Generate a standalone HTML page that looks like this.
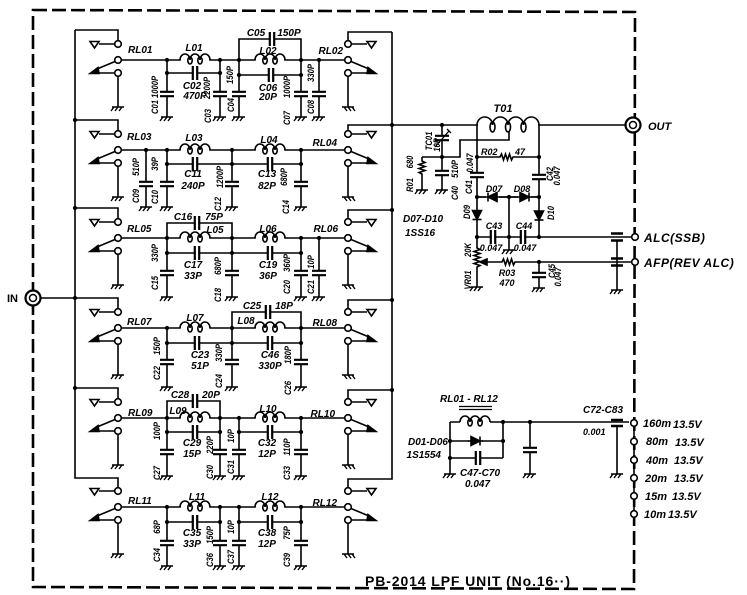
<!DOCTYPE html>
<html><head><meta charset="utf-8"><style>
html,body{margin:0;padding:0;background:#fff}
svg{display:block}
text{fill:#000;stroke:none;font-family:"Liberation Sans",sans-serif;font-weight:bold;font-style:italic;font-size:10px}
.r{text-anchor:middle;dominant-baseline:central;font-size:9px}
.m{text-anchor:middle}
.e{text-anchor:end}
.s{font-size:9px}
</style></head><body>
<svg width="747" height="595" viewBox="0 0 747 595" stroke="#000" stroke-width="1.6" fill="none">
<defs>
<g id="g"><path d="M-6,0H6M-4,0l-3,4M0,0l-3,4M4,0l-3,4" stroke-width="1.4"/></g>
<g id="cv"><rect x="-7" y="-2.2" width="14" height="4.4" fill="#fff" stroke="none"/><path d="M-7,-2.2H7M-7,2.2H7" stroke-width="2.2"/></g>
<g id="ch"><rect x="-2.2" y="-7" width="4.4" height="14" fill="#fff" stroke="none"/><path d="M-2.2,-7V7M2.2,-7V7" stroke-width="2.2"/></g>
<g id="L"><rect x="0.8" y="-2" width="28.4" height="4" fill="#fff" stroke="none"/><path d="M0,0A5,6 0 0 1 10,0A5,6 0 0 1 20,0A5,6 0 0 1 30,0"/><ellipse cx="10" cy="0.5" rx="2.2" ry="3.5"/><ellipse cx="20" cy="0.5" rx="2.2" ry="3.5"/></g>
<circle id="d" r="2.1" fill="#000" stroke="none"/>
<g id="rl">
<path d="M-3.3,-16H-19M-3,1.5L-21,9M-19,13H-3.3M0,16.3V47"/>
<polygon points="-28,-18.5 -19,-18.5 -23.5,-12" fill="#fff"/>
<polygon points="-28,13.5 -20,7.5 -19,13.5" fill="#000"/>
<circle cy="-16" r="3.3" fill="#fff"/><circle r="3.3" fill="#fff"/><circle cy="13" r="3.3" fill="#fff"/>
<use href="#g" y="47"/>
</g>
</defs>

<!-- dashed border -->
<path d="M33,10L635,12L634,589L33,587Z" stroke-width="2.6" stroke-dasharray="14 5"/>

<!-- buses -->
<path d="M75,30V478H118V487.7"/>
<path d="M392,32V479H348V487.7"/>
<path d="M41,298H75"/>
<use href="#d" x="75" y="120"/><use href="#d" x="75" y="208"/><use href="#d" x="75" y="298"/><use href="#d" x="75" y="388"/>
<use href="#d" x="392" y="125"/><use href="#d" x="392" y="210"/><use href="#d" x="392" y="300"/><use href="#d" x="392" y="390"/>

<!-- IN / OUT connectors -->
<circle cx="33" cy="298" r="7.5" fill="#fff" stroke-width="2.2"/><circle cx="33" cy="298" r="3.5" stroke-width="1.5"/>
<text x="7" y="302" style="font-style:normal;font-size:11px">IN</text>
<circle cx="633" cy="125" r="7.5" fill="#fff" stroke-width="2.2"/><circle cx="633" cy="125" r="3.5" stroke-width="1.5"/>
<text x="648" y="130" style="font-size:11px">OUT</text>

<!-- ROW 1 c=60 -->
<path d="M121.3,60H344.7M118,40.7V30H75M348,40.7V32H392M239,60V39H301V60M167,73H220M239,75H301M167,60V117M220,60V117M239,60V117M301,60V117M319,60V117"/>
<use href="#rl" x="118" y="60"/><use href="#rl" transform="translate(348,60) scale(-1,1)"/>
<use href="#L" x="180" y="60"/><use href="#L" x="255" y="60"/>
<use href="#ch" x="272" y="39"/><use href="#ch" x="195" y="73"/><use href="#ch" x="271" y="75"/>
<use href="#cv" x="167" y="94"/><use href="#cv" x="220" y="94"/><use href="#cv" x="239" y="94"/><use href="#cv" x="301" y="94"/><use href="#cv" x="319" y="94"/>
<use href="#g" x="167" y="117"/><use href="#g" x="220" y="117"/><use href="#g" x="239" y="117"/><use href="#g" x="301" y="117"/><use href="#g" x="319" y="117"/>
<use href="#d" x="167" y="60"/><use href="#d" x="220" y="60"/><use href="#d" x="239" y="60"/><use href="#d" x="301" y="60"/><use href="#d" x="319" y="60"/>
<use href="#d" x="167" y="73"/><use href="#d" x="220" y="73"/><use href="#d" x="239" y="75"/><use href="#d" x="301" y="75"/>
<text x="128" y="53">RL01</text><text class="e" x="343" y="54">RL02</text>
<text class="m" x="194" y="51">L01</text><text class="m" x="268" y="54">L02</text>
<text class="m" x="256" y="36">C05</text><text class="m" x="289" y="36">150P</text>
<text class="m" x="192" y="89">C02</text><text class="m" x="195" y="99">470P</text>
<text class="m" x="268" y="91">C06</text><text class="m" x="268" y="100">20P</text>
<text class="r" transform="translate(155,107)rotate(-90)scale(.85,1)">C01</text><text class="r" transform="translate(155,87)rotate(-90)scale(.85,1)">1000P</text>
<text class="r" transform="translate(208,116)rotate(-90)scale(.85,1)">C03</text><text class="r" transform="translate(207,88)rotate(-90)scale(.85,1)">2200P</text>
<text class="r" transform="translate(231,105)rotate(-90)scale(.85,1)">C04</text><text class="r" transform="translate(230,75)rotate(-90)scale(.85,1)">150P</text>
<text class="r" transform="translate(287,118)rotate(-90)scale(.85,1)">C07</text><text class="r" transform="translate(287,87)rotate(-90)scale(.85,1)">1000P</text>
<text class="r" transform="translate(311,107)rotate(-90)scale(.85,1)">C08</text><text class="r" transform="translate(311,73)rotate(-90)scale(.85,1)">330P</text>

<!-- ROW 2 c=150 -->
<path d="M121.3,150H344.7M118,130.7V120H75M348,130.7V125H625M167,164H301M146,150V207M167,150V207M232,150V207M301,150V207"/>
<use href="#rl" x="118" y="150"/><use href="#rl" transform="translate(348,150) scale(-1,1)"/>
<use href="#L" x="180" y="150"/><use href="#L" x="255" y="150"/>
<use href="#ch" x="195" y="164"/><use href="#ch" x="270" y="164"/>
<use href="#cv" x="146" y="184"/><use href="#cv" x="167" y="184"/><use href="#cv" x="232" y="184"/><use href="#cv" x="301" y="184"/>
<use href="#g" x="146" y="207"/><use href="#g" x="167" y="207"/><use href="#g" x="232" y="207"/><use href="#g" x="301" y="207"/>
<use href="#d" x="146" y="150"/><use href="#d" x="167" y="150"/><use href="#d" x="232" y="150"/><use href="#d" x="301" y="150"/>
<use href="#d" x="167" y="164"/><use href="#d" x="232" y="164"/><use href="#d" x="301" y="164"/>
<text x="127" y="140">RL03</text><text class="e" x="337" y="146">RL04</text>
<text class="m" x="194" y="141">L03</text><text class="m" x="269" y="143">L04</text>
<text class="m" x="193" y="177">C11</text><text class="m" x="193" y="189">240P</text>
<text class="m" x="267" y="177">C13</text><text class="m" x="267" y="189">82P</text>
<text class="r" transform="translate(136,196)rotate(-90)scale(.85,1)">C09</text><text class="r" transform="translate(136,167)rotate(-90)scale(.85,1)">510P</text>
<text class="r" transform="translate(155,197)rotate(-90)scale(.85,1)">C10</text><text class="r" transform="translate(155,164)rotate(-90)scale(.85,1)">39P</text>
<text class="r" transform="translate(218,204)rotate(-90)scale(.85,1)">C12</text><text class="r" transform="translate(220,177)rotate(-90)scale(.85,1)">1200P</text>
<text class="r" transform="translate(286,207)rotate(-90)scale(.85,1)">C14</text><text class="r" transform="translate(284,177)rotate(-90)scale(.85,1)">680P</text>

<!-- ROW 3 c=238 -->
<path d="M121.3,238H344.7M118,218.7V208H75M348,218.7V210H392M167,238V223H232V238M167,253H301M167,238V297M232,238V297M301,238V297M319,238V297"/>
<use href="#rl" x="118" y="238"/><use href="#rl" transform="translate(348,238) scale(-1,1)"/>
<use href="#L" x="180" y="238"/><use href="#L" x="255" y="238"/>
<use href="#ch" x="197" y="223"/><use href="#ch" x="197" y="253"/><use href="#ch" x="270" y="253"/>
<use href="#cv" x="167" y="273"/><use href="#cv" x="232" y="273"/><use href="#cv" x="301" y="273"/><use href="#cv" x="319" y="273"/>
<use href="#g" x="167" y="297"/><use href="#g" x="232" y="297"/><use href="#g" x="301" y="297"/><use href="#g" x="319" y="297"/>
<use href="#d" x="167" y="238"/><use href="#d" x="232" y="238"/><use href="#d" x="301" y="238"/><use href="#d" x="319" y="238"/>
<use href="#d" x="167" y="253"/><use href="#d" x="232" y="253"/><use href="#d" x="301" y="253"/>
<text x="127" y="232">RL05</text><text class="e" x="338" y="232">RL06</text>
<text class="m" x="215" y="233">L05</text><text class="m" x="268" y="232">L06</text>
<text class="m" x="183" y="220">C16</text><text class="m" x="214" y="220">75P</text>
<text class="m" x="193" y="268">C17</text><text class="m" x="193" y="279">33P</text>
<text class="m" x="268" y="268">C19</text><text class="m" x="268" y="279">36P</text>
<text class="r" transform="translate(155,283)rotate(-90)scale(.85,1)">C15</text><text class="r" transform="translate(155,253)rotate(-90)scale(.85,1)">330P</text>
<text class="r" transform="translate(218,295)rotate(-90)scale(.85,1)">C18</text><text class="r" transform="translate(218,266)rotate(-90)scale(.85,1)">680P</text>
<text class="r" transform="translate(287,287)rotate(-90)scale(.85,1)">C20</text><text class="r" transform="translate(287,263)rotate(-90)scale(.85,1)">360P</text>
<text class="r" transform="translate(311,287)rotate(-90)scale(.85,1)">C21</text><text class="r" transform="translate(311,262)rotate(-90)scale(.85,1)">10P</text>

<!-- ROW 4 c=328 -->
<path d="M121.3,328H344.7M118,308.7V298H75M348,308.7V300H392M232,328V312H301V328M167,343H301M167,328V387M232,328V387M301,328V387"/>
<use href="#rl" x="118" y="328"/><use href="#rl" transform="translate(348,328) scale(-1,1)"/>
<use href="#L" x="180" y="328"/><use href="#L" x="255" y="328"/>
<use href="#ch" x="268" y="312"/><use href="#ch" x="197" y="343"/><use href="#ch" x="270" y="343"/>
<use href="#cv" x="167" y="362"/><use href="#cv" x="232" y="362"/><use href="#cv" x="301" y="362"/>
<use href="#g" x="167" y="387"/><use href="#g" x="232" y="387"/><use href="#g" x="301" y="387"/>
<use href="#d" x="167" y="328"/><use href="#d" x="232" y="328"/><use href="#d" x="301" y="328"/>
<use href="#d" x="167" y="343"/><use href="#d" x="232" y="343"/><use href="#d" x="301" y="343"/>
<text x="127" y="325">RL07</text><text class="e" x="337" y="326">RL08</text>
<text class="m" x="195" y="321">L07</text><text class="m" x="246" y="324">L08</text>
<text class="m" x="252" y="309">C25</text><text class="m" x="284" y="309">18P</text>
<text class="m" x="200" y="358">C23</text><text class="m" x="200" y="369">51P</text>
<text class="m" x="270" y="358">C46</text><text class="m" x="270" y="369">330P</text>
<text class="r" transform="translate(157,373)rotate(-90)scale(.85,1)">C22</text><text class="r" transform="translate(157,346)rotate(-90)scale(.85,1)">150P</text>
<text class="r" transform="translate(219,381)rotate(-90)scale(.85,1)">C24</text><text class="r" transform="translate(219,353)rotate(-90)scale(.85,1)">330P</text>
<text class="r" transform="translate(288,388)rotate(-90)scale(.85,1)">C26</text><text class="r" transform="translate(288,355)rotate(-90)scale(.85,1)">180P</text>

<!-- ROW 5 c=418 -->
<path d="M121.3,418H344.7M118,398.7V388H75M348,398.7V390H392M167,418V401H220V418M167,432H220M239,432H301M167,418V476M220,418V476M239,418V476M301,418V476"/>
<use href="#rl" x="118" y="418"/><use href="#rl" transform="translate(348,418) scale(-1,1)"/>
<use href="#L" x="180" y="418"/><use href="#L" x="255" y="418"/>
<use href="#ch" x="195" y="401"/><use href="#ch" x="195" y="432"/><use href="#ch" x="270" y="432"/>
<use href="#cv" x="167" y="452"/><use href="#cv" x="220" y="452"/><use href="#cv" x="239" y="452"/><use href="#cv" x="301" y="452"/>
<use href="#g" x="167" y="476"/><use href="#g" x="220" y="476"/><use href="#g" x="239" y="476"/><use href="#g" x="301" y="476"/>
<use href="#d" x="167" y="418"/><use href="#d" x="220" y="418"/><use href="#d" x="239" y="418"/><use href="#d" x="301" y="418"/>
<use href="#d" x="167" y="432"/><use href="#d" x="220" y="432"/><use href="#d" x="239" y="432"/><use href="#d" x="301" y="432"/>
<text x="128" y="416">RL09</text><text class="e" x="335" y="417">RL10</text>
<text class="m" x="178" y="414">L09</text><text class="m" x="268" y="412">L10</text>
<text class="m" x="180" y="398">C28</text><text class="m" x="211" y="398">20P</text>
<text class="m" x="192" y="446">C29</text><text class="m" x="192" y="457">15P</text>
<text class="m" x="267" y="446">C32</text><text class="m" x="267" y="457">12P</text>
<text class="r" transform="translate(157,473)rotate(-90)scale(.85,1)">C27</text><text class="r" transform="translate(157,431)rotate(-90)scale(.85,1)">100P</text>
<text class="r" transform="translate(210,472)rotate(-90)scale(.85,1)">C30</text><text class="r" transform="translate(210,445)rotate(-90)scale(.85,1)">220P</text>
<text class="r" transform="translate(231,467)rotate(-90)scale(.85,1)">C31</text><text class="r" transform="translate(231,436)rotate(-90)scale(.85,1)">10P</text>
<text class="r" transform="translate(287,473)rotate(-90)scale(.85,1)">C33</text><text class="r" transform="translate(287,447)rotate(-90)scale(.85,1)">110P</text>

<!-- ROW 6 c=507 -->
<path d="M121.3,507H344.7M167,522H220M239,522H301M167,507V566M220,507V566M239,507V566M301,507V566"/>
<use href="#rl" x="118" y="507"/><use href="#rl" transform="translate(348,507) scale(-1,1)"/>
<use href="#L" x="180" y="507"/><use href="#L" x="255" y="507"/>
<use href="#ch" x="195" y="522"/><use href="#ch" x="270" y="522"/>
<use href="#cv" x="167" y="543"/><use href="#cv" x="220" y="543"/><use href="#cv" x="239" y="543"/><use href="#cv" x="301" y="543"/>
<use href="#g" x="167" y="566"/><use href="#g" x="220" y="566"/><use href="#g" x="239" y="566"/><use href="#g" x="301" y="566"/>
<use href="#d" x="167" y="507"/><use href="#d" x="220" y="507"/><use href="#d" x="239" y="507"/><use href="#d" x="301" y="507"/>
<use href="#d" x="167" y="522"/><use href="#d" x="220" y="522"/><use href="#d" x="239" y="522"/><use href="#d" x="301" y="522"/>
<text x="128" y="504">RL11</text><text class="e" x="337" y="506">RL12</text>
<text class="m" x="197" y="500">L11</text><text class="m" x="270" y="500">L12</text>
<text class="m" x="192" y="536">C35</text><text class="m" x="192" y="547">33P</text>
<text class="m" x="267" y="536">C38</text><text class="m" x="267" y="547">12P</text>
<text class="r" transform="translate(157,555)rotate(-90)scale(.85,1)">C34</text><text class="r" transform="translate(157,527)rotate(-90)scale(.85,1)">68P</text>
<text class="r" transform="translate(210,560)rotate(-90)scale(.85,1)">C36</text><text class="r" transform="translate(210,535)rotate(-90)scale(.85,1)">150P</text>
<text class="r" transform="translate(231,557)rotate(-90)scale(.85,1)">C37</text><text class="r" transform="translate(231,527)rotate(-90)scale(.85,1)">10P</text>
<text class="r" transform="translate(287,560)rotate(-90)scale(.85,1)">C39</text><text class="r" transform="translate(287,533)rotate(-90)scale(.85,1)">75P</text>

<!-- ALC / T01 section -->
<path d="M442,125V157M422,157H460V140H509V131M442,157V190"/>
<path d="M422,157V161l3,1.5l-6,2l6,2l-6,2l6,2l-6,2l3,1.5V190"/>
<use href="#cv" x="442" y="138"/>
<path d="M435,147L449,131M447,129L451,133" stroke-width="1.3"/>
<use href="#cv" x="442" y="173"/>
<use href="#g" x="422" y="190"/><use href="#g" x="442" y="190"/>
<use href="#d" x="442" y="125"/><use href="#d" x="442" y="157"/>
<rect x="478" y="122.5" width="60" height="5" fill="#fff" stroke="none"/>
<path d="M477,125A7.75,8 0 0 1 492.5,125A7.75,8 0 0 1 508,125A7.75,8 0 0 1 523.5,125A7.75,8 0 0 1 539,125"/>
<ellipse cx="492.5" cy="127" rx="2.5" ry="5"/><ellipse cx="508" cy="127" rx="2.5" ry="5"/><ellipse cx="523.5" cy="127" rx="2.5" ry="5"/>
<path d="M477,125V237M539,125V237"/>
<path d="M477,157H500l1.5,-3l2,6l2,-6l2,6l2,-6l2,6l1.5,-3H539"/>
<use href="#cv" x="477" y="175"/><use href="#cv" x="539" y="177"/>
<use href="#d" x="477" y="157"/><use href="#d" x="539" y="157"/>
<path d="M477,197H539M509,197V250M477,237H631"/>
<rect x="486" y="191" width="13" height="12" fill="#fff" stroke="none"/><rect x="518" y="191" width="13" height="12" fill="#fff" stroke="none"/>
<path d="M477,197H539"/>
<polygon points="488,197 497,192.5 497,201.5" fill="#000"/><path d="M488,192.5V201.5"/>
<polygon points="529,197 520,192.5 520,201.5" fill="#000"/><path d="M529,192.5V201.5"/>
<polygon points="477,219.5 472.5,210.5 481.5,210.5" fill="#000"/><path d="M472.5,219.5H481.5"/>
<polygon points="539,220 534.5,211 543.5,211" fill="#000"/><path d="M534.5,220H543.5"/>
<use href="#d" x="477" y="197"/><use href="#d" x="509" y="197"/><use href="#d" x="539" y="197"/>
<use href="#ch" x="493" y="237"/><use href="#ch" x="523" y="237"/>
<use href="#d" x="477" y="237"/><use href="#d" x="509" y="237"/><use href="#d" x="539" y="237"/>
<use href="#g" x="509" y="250"/>
<path d="M611,233.5H623M611,240.5H623M611,258.5H623M611,265.5H623" stroke-width="2.6"/>
<path d="M617,240.5V290"/><use href="#g" x="617" y="290"/>
<path d="M484,262H502l1.5,-3l2,6l2,-6l2,6l2,-6l2,6l1.5,-3H631"/>
<path d="M477,237V248l3,1.5l-6,2l6,2l-6,2l6,2l-6,2l6,2l-6,2l6,2l-3,1.5V287"/>
<polygon points="480,262 487,259 487,265" fill="#000"/>
<use href="#g" x="477" y="287"/>
<path d="M539,262V288"/><use href="#cv" x="539" y="275"/><use href="#g" x="539" y="288"/>
<use href="#d" x="539" y="262"/>
<circle cx="635" cy="237" r="3.3" fill="#fff"/><circle cx="635" cy="262" r="3.3" fill="#fff"/>
<text x="644" y="242" style="font-size:12px;letter-spacing:0.5px">ALC(SSB)</text>
<text x="644" y="267" style="font-size:12px;letter-spacing:0.5px">AFP(REV ALC)</text>
<text class="m" x="503" y="112" style="font-size:11px">T01</text>
<text class="r" transform="translate(429,141)rotate(-90)scale(.85,1)">TC01</text><text class="r" transform="translate(437,145)rotate(-90)scale(.85,1)">10P</text>
<text class="r" transform="translate(410,185)rotate(-90)scale(.85,1)">R01</text><text class="r" transform="translate(410,162)rotate(-90)scale(.85,1)">680</text>
<text class="r" transform="translate(455,193)rotate(-90)scale(.85,1)">C40</text><text class="r" transform="translate(455,169)rotate(-90)scale(.85,1)">510P</text>
<text class="s" x="481" y="155">R02</text><text class="s" x="515" y="155">47</text>
<text class="r" transform="translate(469,187)rotate(-90)scale(.85,1)">C41</text><text class="r" transform="translate(470,163)rotate(-90)scale(.85,1)">0.047</text>
<text class="r" transform="translate(550,174)rotate(-90)scale(.85,1)">C42</text><text class="r" transform="translate(557,176)rotate(-90)scale(.85,1)">0.047</text>
<text class="m s" x="494" y="192">D07</text><text class="m s" x="522" y="192">D08</text>
<text class="r" transform="translate(467,212)rotate(-90)scale(.85,1)">D09</text><text class="r" transform="translate(551,213)rotate(-90)scale(.85,1)">D10</text>
<text class="m s" x="494" y="229">C43</text><text class="m s" x="491" y="251">0.047</text>
<text class="m s" x="524" y="229">C44</text><text class="m s" x="525" y="251">0.047</text>
<text class="r" transform="translate(468,250)rotate(-90)scale(.85,1)">20K</text><text class="r" transform="translate(468,280)rotate(-90)scale(.85,1)">VR01</text>
<text class="m s" x="507" y="276">R03</text><text class="m s" x="507" y="286">470</text>
<text class="r" transform="translate(552,271)rotate(-90)scale(.85,1)">C45</text><text class="r" transform="translate(558,277)rotate(-90)scale(.85,1)">0.047</text>
<text x="403" y="222">D07-D10</text><text x="405" y="236">1SS16</text>

<!-- relay coil supply section -->
<text x="440" y="402">RL01 - RL12</text>
<path d="M459,406.5H492M459,409.5H492" stroke-width="1.2"/>
<path d="M450,422H460M490,422H629M450,422V474M503,422V458M450,441H503M450,458H503M530,422V474M617,426V474"/>
<use href="#L" x="460" y="422"/>
<rect x="469" y="436" width="13" height="10" fill="#fff" stroke="none"/><path d="M468,441H483"/>
<polygon points="471,436.5 471,445.5 480,441" fill="#000"/><path d="M480,436.5V445.5"/>
<use href="#ch" x="478" y="458"/>
<use href="#cv" x="530" y="450"/>
<path d="M611,420H623M611,426H623" stroke-width="2.6"/>
<use href="#d" x="450" y="441"/><use href="#d" x="503" y="441"/><use href="#d" x="450" y="458"/><use href="#d" x="503" y="422"/><use href="#d" x="530" y="422"/>
<use href="#g" x="450" y="474"/><use href="#g" x="530" y="474"/><use href="#g" x="617" y="474"/>
<text class="e" x="448" y="445">D01-D06</text><text class="e" x="441" y="458">1S1554</text>
<text x="460" y="476">C47-C70</text><text x="465" y="487">0.047</text>
<text x="583" y="413">C72-C83</text><text x="583" y="435" class="s">0.001</text>
<path d="M634,423V514"/>
<circle cx="634" cy="423" r="3.3" fill="#fff"/><circle cx="634" cy="441.5" r="3.3" fill="#fff"/><circle cx="634" cy="460" r="3.3" fill="#fff"/><circle cx="634" cy="478" r="3.3" fill="#fff"/><circle cx="634" cy="496" r="3.3" fill="#fff"/><circle cx="634" cy="514" r="3.3" fill="#fff"/>
<text x="643" y="427" style="font-size:11px">160m</text><text x="673" y="428" style="font-size:11px">13.5V</text>
<text x="646" y="445" style="font-size:11px">80m</text><text x="675" y="446" style="font-size:11px">13.5V</text>
<text x="646" y="464" style="font-size:11px">40m</text><text x="674" y="464" style="font-size:11px">13.5V</text>
<text x="645" y="482" style="font-size:11px">20m</text><text x="674" y="482" style="font-size:11px">13.5V</text>
<text x="645" y="500" style="font-size:11px">15m</text><text x="672" y="500" style="font-size:11px">13.5V</text>
<text x="644" y="518" style="font-size:11px">10m</text><text x="668" y="518" style="font-size:11px">13.5V</text>

<text x="365" y="586" textLength="205" lengthAdjust="spacing" style="font-style:normal;font-size:14px">PB-2014  LPF  UNIT (No.16··)</text>
</svg>
</body></html>
